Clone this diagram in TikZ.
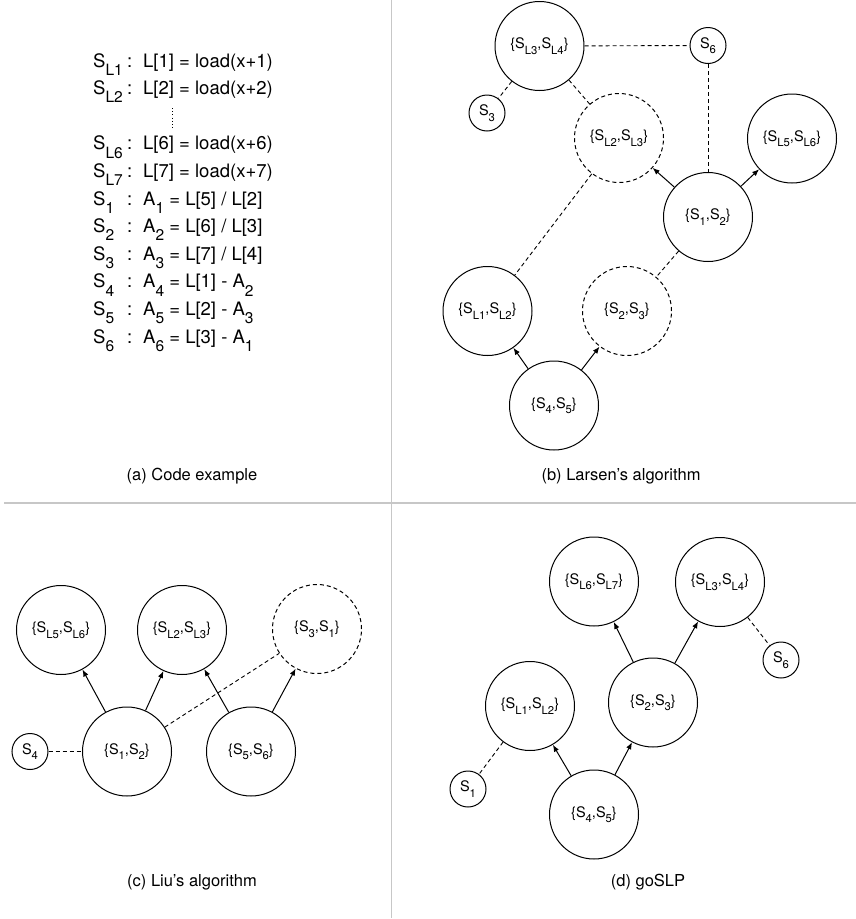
\documentclass[tikz,border=0pt]{standalone}
\usepackage{graphicx}
\usepackage{fontspec}
\setmainfont{TeX Gyre Heros}
\usetikzlibrary{arrows.meta}
\newcommand\sbx[1]{\raisebox{-0.38em}{\scalebox{0.78}{#1}}}
\newcommand\csb[1]{\raisebox{-0.45em}{\scalebox{0.84}{#1}}}
\newcommand\nodefont{\fontsize{14.5}{17}\selectfont}
\newcommand\codefont{\fontsize{18.5}{22}\selectfont}
\newcommand\capfont{\fontsize{16.5}{20}\selectfont}
\newcommand\lab[2]{\makebox[34pt][l]{S\csb{#1}}\makebox[16pt][l]{:}#2}
\begin{document}
\begin{tikzpicture}[x=1pt,y=-1pt,
  big/.style={circle, draw, line width=1pt, minimum size=89pt, inner sep=0pt, font=\nodefont},
  bigd/.style={big, dash pattern=on 4pt off 3pt},
  small/.style={circle, draw, line width=1pt, minimum size=36pt, inner sep=0pt, font=\nodefont},
  arr/.style={-{Latex[length=7pt,width=5.5pt]}, line width=1pt},
  dsh/.style={line width=0.9pt, dash pattern=on 4pt off 3pt},
  code/.style={anchor=base west, inner sep=0pt, font=\codefont},
  captxt/.style={inner sep=0pt, font=\capfont},
  divider/.style={draw=black!22, line width=1.5pt}]
\useasboundingbox (0,0) rectangle (856,919);
% dividers
\draw[divider] (4,503) -- (856,503);
\draw[divider] (391.5,0) -- (391.5,918);

% (a) code
\node[code] (l1) at (93,67) {\lab{L1}{L[1] = load(x+1)}};
\node[code] (l2) at (93,94.6) {\lab{L2}{L[2] = load(x+2)}};
\coordinate (dtop) at (172.5,108);
\coordinate (dbot) at (172.5,129);
\draw[line width=1.1pt, dash pattern=on 1pt off 2.2pt] (dtop) -- (dbot);
\node[code] (l6) at (93,149.8) {\lab{L6}{L[6] = load(x+6)}};
\node[code] (l7) at (93,177.4) {\lab{L7}{L[7] = load(x+7)}};
\node[code] (s1) at (93,205) {\lab{1}{A\csb{1} = L[5] / L[2]}};
\node[code] (s2) at (93,232.6) {\lab{2}{A\csb{2} = L[6] / L[3]}};
\node[code] (s3) at (93,260.2) {\lab{3}{A\csb{3} = L[7] / L[4]}};
\node[code] (s4) at (93,287.8) {\lab{4}{A\csb{4} = L[1] - A\csb{2}}};
\node[code] (s5) at (93,315.4) {\lab{5}{A\csb{5} = L[2] - A\csb{3}}};
\node[code] (s6) at (93,343) {\lab{6}{A\csb{6} = L[3] - A\csb{1}}};
\node[captxt] (capa) at (192,476) {(a) Code example};

% (b) Larsen
\node[big] (b34) at (539.5,46) {\{S\sbx{L3},S\sbx{L4}\}};
\node[small] (bS6) at (708,45.5) {S\sbx{6}};
\node[small] (bS3) at (487,113) {S\sbx{3}};
\node[bigd] (b23) at (619,138) {\{S\sbx{L2},S\sbx{L3}\}};
\node[big] (b56) at (792,138.5) {\{S\sbx{L5},S\sbx{L6}\}};
\node[big] (b12) at (708,217) {\{S\sbx{1},S\sbx{2}\}};
\node[big] (bl12) at (487.5,311) {\{S\sbx{L1},S\sbx{L2}\}};
\node[bigd] (bs23) at (627,311) {\{S\sbx{2},S\sbx{3}\}};
\node[big] (b45) at (554,405.5) {\{S\sbx{4},S\sbx{5}\}};
\draw[dsh] (b34) -- (bS6);
\draw[dsh] (bS6) -- (b12);
\draw[dsh] (b34) -- (bS3);
\draw[dsh] (b34) -- (b23);
\draw[dsh] (b23) -- (bl12);
\draw[dsh] (b12) -- (bs23);
\draw[arr] (b12) -- (b23);
\draw[arr] (b12) -- (b56);
\draw[arr] (b45) -- (bl12);
\draw[arr] (b45) -- (bs23);
\node[captxt] (capb) at (621,476) {(b) Larsen’s algorithm};

% (c) Liu
\node[big] (c56) at (61,630) {\{S\sbx{L5},S\sbx{L6}\}};
\node[big] (c23) at (182,630) {\{S\sbx{L2},S\sbx{L3}\}};
\node[bigd] (c31) at (317,629) {\{S\sbx{3},S\sbx{1}\}};
\node[small] (cS4) at (30,751.5) {S\sbx{4}};
\node[big] (c12) at (127,751.5) {\{S\sbx{1},S\sbx{2}\}};
\node[big] (cs56) at (251,751.5) {\{S\sbx{5},S\sbx{6}\}};
\draw[arr] (c12) -- (c56);
\draw[arr] (c12) -- (c23);
\draw[arr] (cs56) -- (c23);
\draw[arr] (cs56) -- (c31);
\draw[dsh] (c12) -- (c31);
\draw[dsh] (cS4) -- (c12);
\node[captxt] (capc) at (192,882) {(c) Liu’s algorithm};

% (d) goSLP
\node[big] (d67) at (594,581.5) {\{S\sbx{L6},S\sbx{L7}\}};
\node[big] (d34) at (720,582) {\{S\sbx{L3},S\sbx{L4}\}};
\node[small] (dS6) at (781,660) {S\sbx{6}};
\node[big] (d23) at (653,702.5) {\{S\sbx{2},S\sbx{3}\}};
\node[big] (d12) at (530,706) {\{S\sbx{L1},S\sbx{L2}\}};
\node[small] (dS1) at (468,789) {S\sbx{1}};
\node[big] (d45) at (594,814.5) {\{S\sbx{4},S\sbx{5}\}};
\draw[arr] (d23) -- (d67);
\draw[arr] (d23) -- (d34);
\draw[arr] (d45) -- (d12);
\draw[arr] (d45) -- (d23);
\draw[dsh] (d34) -- (dS6);
\draw[dsh] (d12) -- (dS1);
\node[captxt] (capd) at (648,882) {(d) goSLP};
\end{tikzpicture}
\end{document}
